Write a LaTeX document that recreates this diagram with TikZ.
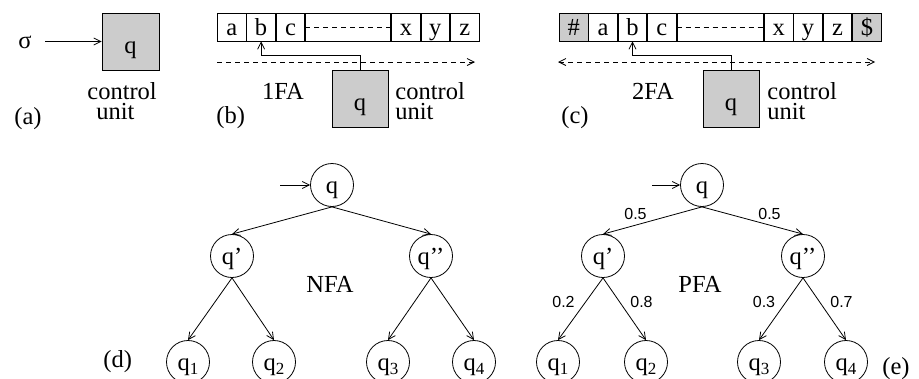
\documentclass[tikz,border=0pt]{standalone}
\usepackage{fontspec}
\setmainfont{Liberation Serif}
\newfontfamily\lblfont{Liberation Sans}
\usetikzlibrary{arrows.meta}
\definecolor{boxgray}{RGB}{204,204,204}
\newcommand{\qsub}[1]{q\raisebox{-4pt}{\fontsize{17}{17}\selectfont #1}}
\begin{document}
\begin{tikzpicture}[x=1pt,y=-1pt,line width=0.8pt,
  font=\fontsize{24.5}{26}\selectfont,
  >={Straight Barb[length=7pt,width=7pt]},
  cell/.style={draw,anchor=west,minimum width=28.6pt,minimum height=28pt,inner sep=0pt,text height=17pt,text depth=1pt},
  graycell/.style={cell,fill=boxgray},
  cunit/.style={draw,fill=boxgray,inner sep=0pt,text height=24pt,text depth=1pt},
  state/.style={draw,circle,minimum size=43pt,inner sep=0pt,text height=17pt,text depth=1pt},
  txt/.style={inner sep=0pt},
  cutxt/.style={inner sep=0pt,align=left,anchor=base west,font=\fontsize{24.5}{20}\selectfont},
  plbl/.style={inner sep=0pt,font=\lblfont\fontsize{16}{16}\selectfont},
  tapemove/.style={dashed,dash pattern=on 5pt off 4pt}
]
\useasboundingbox (0,0) rectangle (919,378);

% (a)
\node[txt,anchor=base] (sigma) at (25,48) {σ};
\node[cunit,minimum width=57pt,minimum height=57pt] (qa) at (130.5,41.5) {q};
\coordinate (sa) at (45,41.5);
\draw[->] (sa) -- (qa.west);
\node[cutxt] (ca) at (87,119) {control\\\hspace*{9pt}unit};
\node[txt,anchor=base west] (la) at (14,124) {(a)};

% (b)
\node[cell] (ba) at (217,27) {a};
\node[cell] (bb) at (ba.east) {b};
\node[cell] (bc) at (bb.east) {c};
\node[cell,minimum width=85.2pt] (bblank) at (bc.east) {};
\node[cell] (bx) at (bblank.east) {x};
\node[cell] (by) at (bx.east) {y};
\node[cell] (bz) at (by.east) {z};
\draw[tapemove] (bblank.west) -- (bblank.east);
\coordinate (bds) at (217,62);
\coordinate (bde) at (475,62);
\draw[tapemove,->] (bds) -- (bde);
\node[cunit,minimum width=56pt,minimum height=57pt] (qb) at (360,98.5) {q};
\draw[->] (qb.north) -- ++(0,-14) -| (bb.south);
\node[txt,anchor=base] (fb) at (283,99) {1FA};
\node[cutxt] (cb) at (395,119) {control\\unit};
\node[txt,anchor=base west] (lb) at (216,123) {(b)};

% (c)
\node[graycell] (ch) at (559,27) {\#};
\node[cell] (ca2) at (ch.east) {a};
\node[cell] (cb2) at (ca2.east) {b};
\node[cell] (cc2) at (cb2.east) {c};
\node[cell,minimum width=86.6pt] (cblank) at (cc2.east) {};
\node[cell] (cx) at (cblank.east) {x};
\node[cell] (cy) at (cx.east) {y};
\node[cell] (cz) at (cy.east) {z};
\node[graycell] (cd) at (cz.east) {\$};
\draw[tapemove] (cblank.west) -- (cblank.east);
\coordinate (cds) at (558,62);
\coordinate (cde) at (875,62);
\draw[tapemove,<->] (cds) -- (cde);
\node[cunit,minimum width=56pt,minimum height=57pt] (qc) at (731,98.5) {q};
\draw[->] (qc.north) -- ++(0,-14) -| (cb2.south);
\node[txt,anchor=base] (fc) at (653,99) {2FA};
\node[cutxt] (cc) at (767,119) {control\\unit};
\node[txt,anchor=base west] (lc) at (561,123) {(c)};

% (d) NFA
\node[state] (dq) at (332,185) {q};
\node[state] (dq1p) at (232,256) {q’};
\node[state] (dq2p) at (431,256) {q’’};
\node[state] (d1) at (188,362) {\qsub{1}};
\node[state] (d2) at (274,362) {\qsub{2}};
\node[state] (d3) at (388,362) {\qsub{3}};
\node[state] (d4) at (474,362) {\qsub{4}};
\coordinate (dstart) at (280,185);
\draw[->] (dstart) -- (dq.west);
\draw[->] (dq.south) -- (dq1p.north);
\draw[->] (dq.south) -- (dq2p.north);
\draw[->] (dq1p.south) -- (d1.north);
\draw[->] (dq1p.south) -- (d2.north);
\draw[->] (dq2p.south) -- (d3.north);
\draw[->] (dq2p.south) -- (d4.north);
\node[txt,anchor=base] (nfa) at (330,292) {NFA};
\node[txt,anchor=base west] (ld) at (103,367) {(d)};

% (e) PFA
\node[state] (eq) at (702,185) {q};
\node[state] (eq1p) at (603,256) {q’};
\node[state] (eq2p) at (803,256) {q’’};
\node[state] (e1) at (558,362) {\qsub{1}};
\node[state] (e2) at (646,362) {\qsub{2}};
\node[state] (e3) at (759,362) {\qsub{3}};
\node[state] (e4) at (846,362) {\qsub{4}};
\coordinate (estart) at (652,185);
\draw[->] (estart) -- (eq.west);
\draw[->] (eq.south) -- node[plbl,xshift=-17pt,yshift=7pt] {0.5} (eq1p.north);
\draw[->] (eq.south) -- node[plbl,xshift=17pt,yshift=7pt] {0.5} (eq2p.north);
\draw[->] (eq1p.south) -- node[plbl,xshift=-17pt,yshift=7pt] {0.2} (e1.north);
\draw[->] (eq1p.south) -- node[plbl,xshift=17pt,yshift=7pt] {0.8} (e2.north);
\draw[->] (eq2p.south) -- node[plbl,xshift=-17pt,yshift=7pt] {0.3} (e3.north);
\draw[->] (eq2p.south) -- node[plbl,xshift=17pt,yshift=7pt] {0.7} (e4.north);
\node[txt,anchor=base] (pfa) at (700,292) {PFA};
\node[txt,anchor=base] (le) at (896,374) {(e)};
\end{tikzpicture}
\end{document}
